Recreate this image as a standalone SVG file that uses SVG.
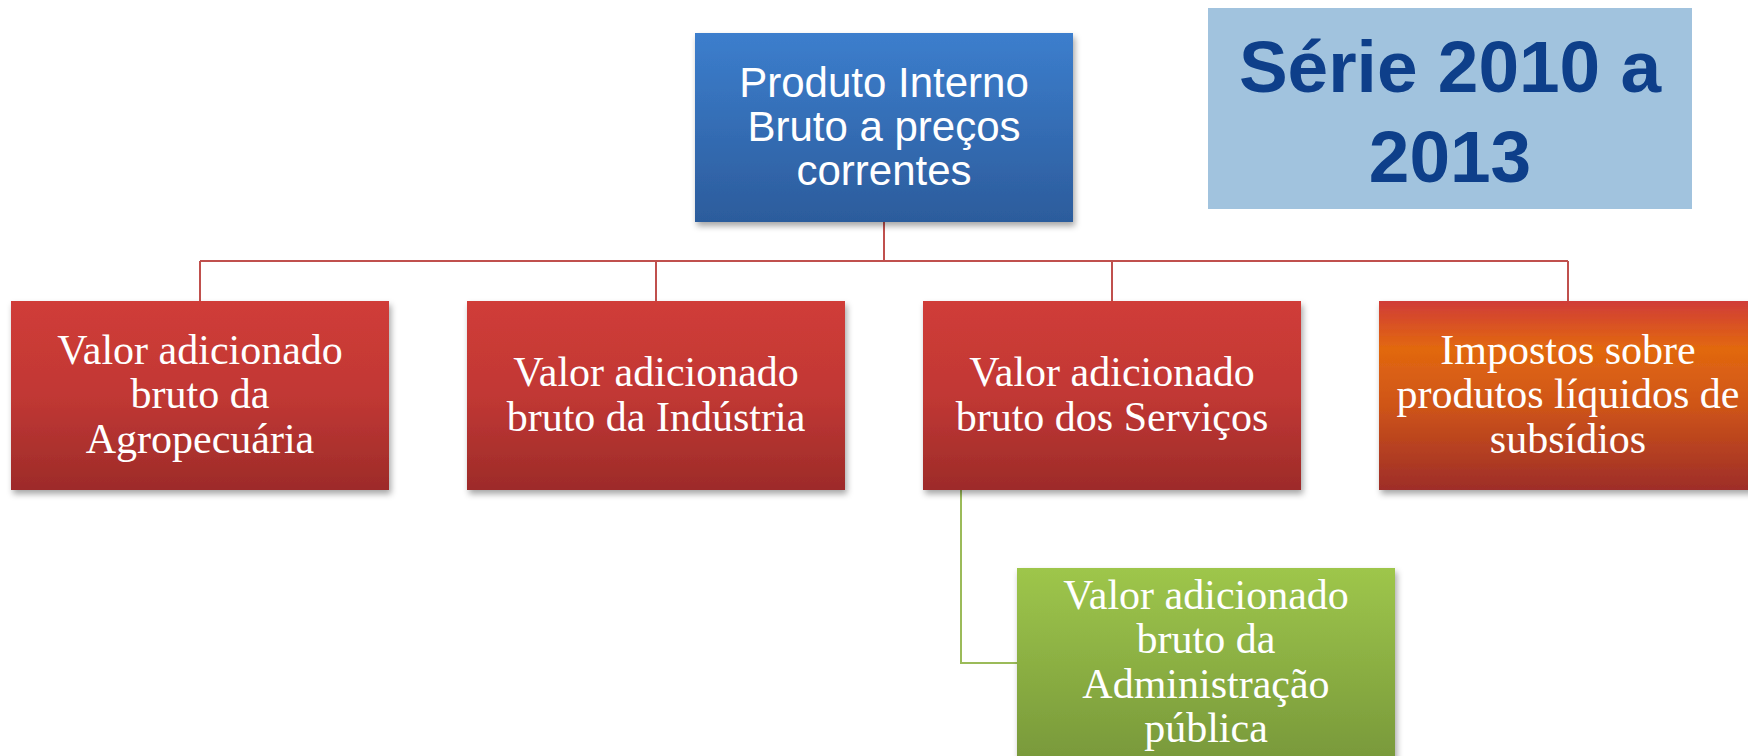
<svg xmlns="http://www.w3.org/2000/svg" width="1748" height="756" viewBox="0 0 1748 756">
<defs>
<linearGradient id="gBlue" x1="0" y1="0" x2="0" y2="1"><stop offset="0" stop-color="#3c7ecd"/><stop offset="1" stop-color="#2c5c9c"/></linearGradient>
<linearGradient id="gRed" x1="0" y1="0" x2="0" y2="1"><stop offset="0" stop-color="#d03c38"/><stop offset="0.5" stop-color="#c13834"/><stop offset="1" stop-color="#9d2b29"/></linearGradient>
<linearGradient id="gOrange" x1="0" y1="0" x2="0" y2="1"><stop offset="0" stop-color="#d03c38"/><stop offset="0.25" stop-color="#e2680f"/><stop offset="0.55" stop-color="#cf5518"/><stop offset="1" stop-color="#9e2d29"/></linearGradient>
<linearGradient id="gGreen" x1="0" y1="0" x2="0" y2="1"><stop offset="0" stop-color="#9ec64b"/><stop offset="1" stop-color="#77973a"/></linearGradient>
<filter id="sh" x="-5%" y="-5%" width="115%" height="120%"><feDropShadow dx="2" dy="4" stdDeviation="3" flood-color="#000" flood-opacity="0.35"/></filter>
</defs>
<style>
.box{filter:url(#sh);}
.tsans{font-family:"Liberation Sans",Arial,sans-serif;font-size:42px;fill:#fff;text-anchor:middle;}
.tserif{font-family:"Liberation Serif","Times New Roman",serif;font-size:42px;fill:#fff;text-anchor:middle;}
.red{stroke:#c0504d;stroke-width:2;fill:none;}
.green{stroke:#9bbb59;stroke-width:2;fill:none;}
.title{font-family:"Liberation Sans",Arial,sans-serif;font-weight:bold;font-size:73px;fill:#0e3f8a;text-anchor:middle;}
</style>
<rect width="1748" height="756" fill="#fff"/>
<g id="connectors">
<path class="red" d="M884 222 V261 M200 261 H1568 M200 261 V301 M656 261 V301 M1112 261 V301 M1568 261 V301"/>
<path class="green" d="M961 490 V663 H1017"/>
</g>
<g id="title">
<rect x="1208" y="8" width="484" height="201" fill="#a1c3de"/>
<text class="title" x="1450" y="92">Série 2010 a</text>
<text class="title" x="1450" y="182">2013</text>
</g>
<g id="pib">
<rect class="box" x="695" y="33" width="378" height="189" fill="url(#gBlue)"/>
<text class="tsans" x="884" y="97">Produto Interno</text>
<text class="tsans" x="884" y="141">Bruto a preços</text>
<text class="tsans" x="884" y="185">correntes</text>
</g>
<g id="agro">
<rect class="box" x="11" y="301" width="378" height="189" fill="url(#gRed)"/>
<text class="tserif" x="200" y="364">Valor adicionado</text>
<text class="tserif" x="200" y="408">bruto da</text>
<text class="tserif" x="200" y="453">Agropecuária</text>
</g>
<g id="industria">
<rect class="box" x="467" y="301" width="378" height="189" fill="url(#gRed)"/>
<text class="tserif" x="656" y="386">Valor adicionado</text>
<text class="tserif" x="656" y="431">bruto da Indústria</text>
</g>
<g id="servicos">
<rect class="box" x="923" y="301" width="378" height="189" fill="url(#gRed)"/>
<text class="tserif" x="1112" y="386">Valor adicionado</text>
<text class="tserif" x="1112" y="431">bruto dos Serviços</text>
</g>
<g id="impostos">
<rect class="box" x="1379" y="301" width="378" height="189" fill="url(#gOrange)"/>
<text class="tserif" x="1568" y="364">Impostos sobre</text>
<text class="tserif" x="1568" y="408">produtos líquidos de</text>
<text class="tserif" x="1568" y="453">subsídios</text>
</g>
<g id="administracao">
<rect class="box" x="1017" y="568" width="378" height="200" fill="url(#gGreen)"/>
<text class="tserif" x="1206" y="609">Valor adicionado</text>
<text class="tserif" x="1206" y="653">bruto da</text>
<text class="tserif" x="1206" y="698">Administração</text>
<text class="tserif" x="1206" y="742">pública</text>
</g>
</svg>
